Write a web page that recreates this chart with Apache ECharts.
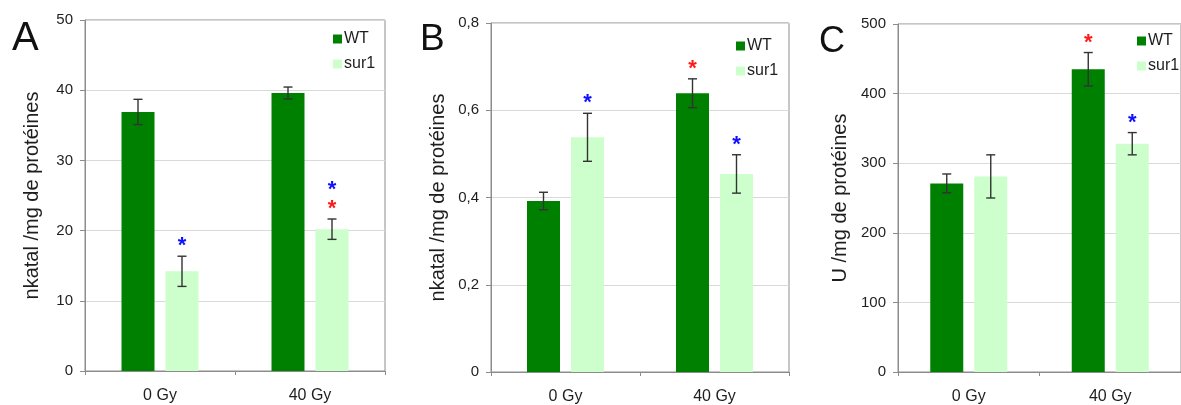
<!DOCTYPE html>
<html>
<head>
<meta charset="utf-8">
<script src="https://cdn.jsdelivr.net/npm/echarts@6/dist/echarts.min.js"></script>
<style>
html,body{margin:0;padding:0;background:#fff;}
#chart{width:1181px;height:405px;}
</style>
</head>
<body>
<div id="chart"></div>
<script>
// ---- data ----
const categories = ['0 Gy', '40 Gy'];
const seriesNames = ['WT', 'sur1'];
const panelLetters = ['A', 'B', 'C'];
const yAxisNames = ['nkatal /mg de protéines', 'nkatal /mg de protéines', 'U /mg de protéines'];

const A_WT = [36.9, 39.6];
const A_WT_err = [1.8, 0.85];
const A_sur1 = [14.2, 20.2];
const A_sur1_err = [2.15, 1.45];

const B_WT = [0.392, 0.639];
const B_WT_err = [0.02, 0.033];
const B_sur1 = [0.538, 0.454];
const B_sur1_err = [0.055, 0.044];

const C_WT = [271, 435];
const C_WT_err = [13.5, 24];
const C_sur1 = [281, 328];
const C_sur1_err = [31, 16];

// significance stars: [category, series, colour] (listed bottom to top)
const A_stars = [['0 Gy', 'sur1', 'blue'], ['40 Gy', 'sur1', 'red'], ['40 Gy', 'sur1', 'blue']];
const B_stars = [['0 Gy', 'sur1', 'blue'], ['40 Gy', 'WT', 'red'], ['40 Gy', 'sur1', 'blue']];
const C_stars = [['40 Gy', 'WT', 'red'], ['40 Gy', 'sur1', 'blue']];

const yTicksA = {min: 0, max: 50, interval: 10};
const yTicksB = {min: 0, max: 0.8, interval: 0.2};
const yTicksC = {min: 0, max: 500, interval: 100};

// ---- styling / layout ----
const WT_COLOR = '#008000';
const SUR_COLOR = '#ccffcc';
const TEXT = '#1e1e1e';
const AXIS = '#8c8c8c';
const FONT = '"Liberation Sans", Arial, sans-serif';
const BAR_W = 33;
const BAR_GAP = 11;
const OFF = (BAR_W + BAR_GAP) / 2;
const STAR_COLORS = {blue: '#1010ff', red: '#ff1a1a'};

const panels = [
  {vals: [A_WT, A_sur1], errs: [A_WT_err, A_sur1_err], stars: A_stars, ticks: yTicksA,
   grid: {left: 85, top: 20, width: 300, height: 351}, nameGap: 43,
   legend: {left: 333, top: 31}, title: {left: 12, top: 19, size: 40}, fmt: v => String(v)},
  {vals: [B_WT, B_sur1], errs: [B_WT_err, B_sur1_err], stars: B_stars, ticks: yTicksB,
   grid: {left: 491, top: 23, width: 298, height: 350}, nameGap: 43,
   legend: {left: 736, top: 38}, title: {left: 420, top: 21, size: 37},
   fmt: v => v === 0 ? '0' : v.toFixed(1).replace('.', ',')},
  {vals: [C_WT, C_sur1], errs: [C_WT_err, C_sur1_err], stars: C_stars, ticks: yTicksC,
   grid: {left: 898, top: 24, width: 294, height: 351}, nameGap: 48,
   legend: {left: 1137, top: 33}, title: {left: 819, top: 24, size: 36}, fmt: v => String(v)}
];

function errRender(params, api) {
  const cat = api.value(0), val = api.value(1), err = api.value(2), ser = api.value(3);
  const c = api.coord([cat, val]);
  const x = c[0] + (ser === 0 ? -OFF : OFF);
  const hi = api.coord([cat, val + err])[1];
  const lo = api.coord([cat, val - err])[1];
  const st = {stroke: '#333', lineWidth: 1.4};
  return {type: 'group', children: [
    {type: 'line', shape: {x1: x, y1: hi, x2: x, y2: lo}, style: st},
    {type: 'line', shape: {x1: x - 4.5, y1: hi, x2: x + 4.5, y2: hi}, style: st},
    {type: 'line', shape: {x1: x - 4.5, y1: lo, x2: x + 4.5, y2: lo}, style: st}
  ]};
}

const starColorList = ['blue', 'red'];
function starRender(params, api) {
  const cat = api.value(0), top = api.value(1), ser = api.value(2), level = api.value(3);
  const colorKey = starColorList[api.value(4)];
  const c = api.coord([cat, top]);
  const x = c[0] + (ser === 0 ? -OFF : OFF);
  const y = c[1] - 10 - level * 19;
  return {type: 'text', x: x, y: y, style: {
    text: '*', fill: STAR_COLORS[colorKey], font: 'bold 22px ' + FONT,
    textAlign: 'center', textVerticalAlign: 'middle'}};
}

const option = {
  animation: false,
  backgroundColor: '#fff',
  textStyle: {fontFamily: FONT},
  title: [], legend: [], grid: [], xAxis: [], yAxis: [], series: []
};

panels.forEach((p, i) => {
  option.title.push({text: panelLetters[i], left: p.title.left, top: p.title.top, padding: 0,
    textStyle: {fontSize: p.title.size, fontWeight: 'normal', color: '#111', fontFamily: FONT}});
  option.legend.push({orient: 'vertical', left: p.legend.left, top: p.legend.top, padding: 0,
    itemWidth: 9, itemHeight: 9, itemGap: 9, icon: 'rect', data: seriesNames,
    selectedMode: false,
    textStyle: {fontSize: 16, color: TEXT, fontFamily: FONT, padding: [0, 0, 0, -3]}});
  option.grid.push(Object.assign({show: true, borderColor: AXIS, borderWidth: 1, containLabel: false}, p.grid));
  option.xAxis.push({type: 'category', gridIndex: i, data: categories,
    axisLine: {lineStyle: {color: AXIS}},
    axisTick: {show: true, length: 4, lineStyle: {color: AXIS}},
    axisLabel: {fontSize: 16, color: TEXT, margin: 17, fontFamily: FONT}});
  option.yAxis.push({type: 'value', gridIndex: i, min: p.ticks.min, max: p.ticks.max, interval: p.ticks.interval,
    name: yAxisNames[i], nameLocation: 'middle', nameGap: p.nameGap, nameRotate: 90,
    nameTextStyle: {fontSize: 20, color: TEXT, fontFamily: FONT},
    axisLine: {show: true, lineStyle: {color: AXIS}},
    axisTick: {show: true, length: 5, lineStyle: {color: AXIS}},
    splitLine: {lineStyle: {color: '#d9d9d9'}},
    axisLabel: {fontSize: 15, color: TEXT, margin: 12, fontFamily: FONT, formatter: p.fmt}});
  seriesNames.forEach((name, s) => {
    option.series.push({type: 'bar', name: name, xAxisIndex: i, yAxisIndex: i,
      data: p.vals[s], barWidth: BAR_W, barGap: (BAR_GAP / BAR_W * 100) + '%',
      itemStyle: {color: s === 0 ? WT_COLOR : SUR_COLOR}});
  });
  const errData = [];
  seriesNames.forEach((name, s) => {
    p.vals[s].forEach((v, k) => errData.push([k, v, p.errs[s][k], s]));
  });
  option.series.push({type: 'custom', xAxisIndex: i, yAxisIndex: i, renderItem: errRender,
    data: errData, z: 5, silent: true});
  const counts = {};
  const starData = p.stars.map(st => {
    const k = categories.indexOf(st[0]);
    const s = seriesNames.indexOf(st[1]);
    const key = k + '-' + s;
    const level = counts[key] || 0;
    counts[key] = level + 1;
    return [k, p.vals[s][k] + p.errs[s][k], s, level, starColorList.indexOf(st[2])];
  });
  option.series.push({type: 'custom', xAxisIndex: i, yAxisIndex: i, renderItem: starRender,
    data: starData, z: 6, silent: true, clip: false});
});

const chart = echarts.init(document.getElementById('chart'), null, {renderer: 'canvas'});
chart.setOption(option);
</script>
</body>
</html>
